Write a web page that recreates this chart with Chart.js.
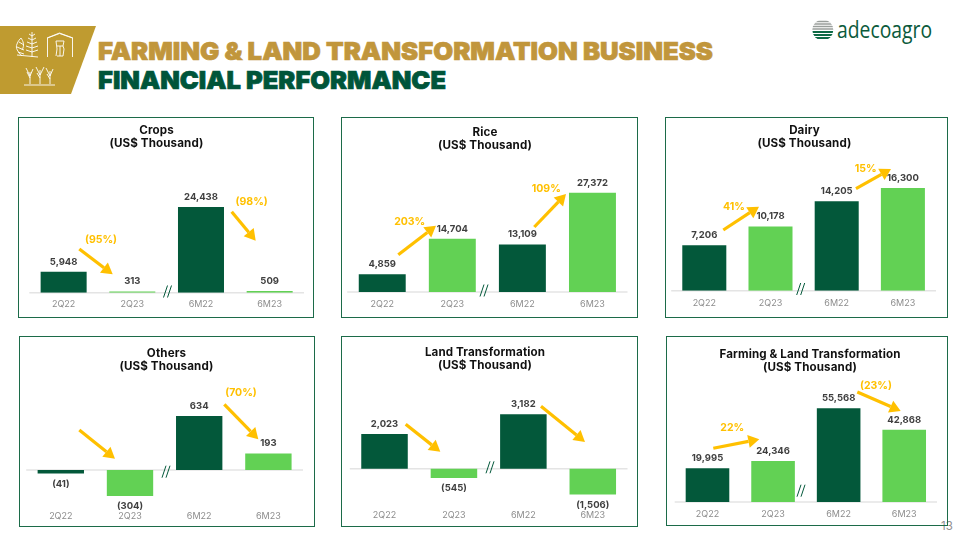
<!DOCTYPE html>
<html><head><meta charset="utf-8">
<script src="https://cdn.jsdelivr.net/npm/chart.js@4"></script>
<style>
html,body{margin:0;padding:0;background:#fff;width:960px;height:540px;overflow:hidden;font-family:Inter,sans-serif}
.box{position:absolute;box-sizing:border-box;border:1.4px solid #1c6b49}
canvas{position:absolute;left:0;top:0}
.ttl{position:absolute;transform:translateX(-50%);white-space:nowrap;text-align:center;font:700 11.600px/13.300px Inter,sans-serif;letter-spacing:.12px;color:#111}
svg{position:absolute;left:0;top:0}
.pg{position:absolute;left:941px;top:519px;font:400 11.500px Inter,sans-serif;color:#8f8f8f}
</style></head><body>
<svg width="960" height="100" viewBox="0 0 960 100">
  <polygon points="0,26 96,26 71,94 0,94" fill="#bf9b30"/>
  <g stroke="#fff" fill="none" stroke-width=".9">
    <path d="M32 32V57M32 36l-3-2M32 36l3-2M32 40l-4-2M32 40l4-2M32 44l-5-2M32 44l5-2M32 48l-6-2M32 48l6-2M32 52l-6-2M32 52l6-2M22 56c-4-4-7-8-5-12c1-3 3-5 4-6c2 3 4 7 1 12M19 42l5 3M17 47l7 3M18 52l6 2M17 55l21 2"/>
    <path d="M47.500 57V38l12-4.500 13 4.500V57M47 38l12.500-5 13.500 5"/>
    <path d="M56 41h8l-1 5 1 3-1 7M63 56h-6M56 41l1 8-1 7M57 46h6M60 46v10"/>
    <path d="M24 85h31M30 84V72M30 76l-4-8M30 78l-3-6M30 76l3-7M40 84V70M40 75l-4-8M40 78l-3-5M40 75l4-8M50 84V71M50 76l-4-8M50 79l-3-5M50 76l3-7"/>
  </g>
  <text x="98" y="60" textLength="615" lengthAdjust="spacingAndGlyphs" font-family="Inter" font-weight="900" font-size="25" fill="#c1963c" stroke="#c1963c" stroke-width=".7">FARMING &amp; LAND TRANSFORMATION BUSINESS</text>
  <text x="98" y="88.500" textLength="348" lengthAdjust="spacingAndGlyphs" font-family="Inter" font-weight="900" font-size="25" fill="#00553a" stroke="#00553a" stroke-width=".7">FINANCIAL PERFORMANCE</text>
  <defs><clipPath id="g"><circle cx="822.800" cy="30" r="10.500"/></clipPath></defs>
  <g clip-path="url(#g)">
    <rect x="812" y="19" width="22" height="22" fill="#fff"/>
    <path d="M812 21.500h22M812 24h22M812 26.500h22M812 29h22" stroke="#9a9f9c" stroke-width="1.500"/>
    <path d="M812 32h22M812 35h22M812 38h22" stroke="#0d6a45" stroke-width="2.200"/>
  </g>
  <text x="837" y="38" textLength="95" lengthAdjust="spacingAndGlyphs" font-family="Open Sans" font-size="23" fill="#0b5a3c">adecoagro</text>
</svg>
<div class="pg">13</div>
<script>
const categories = ['2Q22', '2Q23', '6M22', '6M23'];
const cropsValues = [5948, 313, 24438, 509];
const riceValues = [4859, 14704, 13109, 27372];
const dairyValues = [7206, 10178, 14205, 16300];
const othersValues = [-41, -304, 634, 193];
const landValues = [2023, -545, 3182, -1506];
const totalValues = [19995, 24346, 55568, 42868];
const DARK = '#03583a', LIGHT = '#62d154', GOLD = '#ffc000';

// Layout of each panel (page pixels): box, plot rectangle, tick row, annotations.
const panels = [
 {name:'Crops', values:cropsValues, box:[18,117,314,318], plot:[29.300,304,170,292.700], y:[0,35000], tickY:304, bar:.67,
  titleX:156.500, titleY:124, brk:[167.500,291.500],
  arrows:[[79.300,249,112.700,274.300],[231.700,211.700,255.700,240.700]],
  pct:[['(95%)',101,240],['(98%)',251.700,201.700]]},
 {name:'Rice', values:riceValues, box:[341,117,638,318], plot:[347.200,627.500,165,292], y:[0,35000], tickY:303.700, bar:.67,
  titleX:485, titleY:126, brk:[484,290.500],
  arrows:[[398.300,254.700,436,225.700],[534.300,227,566,194]],
  pct:[['203%',409.700,222.300],['109%',546.300,188.700]]},
 {name:'Dairy', values:dairyValues, box:[665,117,948,318], plot:[671.200,936,164.700,290.700], y:[0,20000], tickY:303, bar:.665,
  titleX:804.500, titleY:124, brk:[800.700,289],
  arrows:[[723.300,230,759,206.700],[856,188.700,891,169]],
  pct:[['41%',734,206.700],['15%',865.700,168.700]]},
 {name:'Others', values:othersValues, box:[19,336,315,527], plot:[26.200,303,384.700,504.100], y:[-400,1000], tickY:516.300, bar:.67,
  titleX:166.500, titleY:346.500, brk:[166,471.700],
  arrows:[[79.300,430,115,458.700],[224.300,404.300,258.300,439.300]],
  pct:[['(70%)',241,392.700]]},
 {name:'Land Transformation', values:landValues, box:[341,336,638,527], plot:[349.800,627.500,383.200,502.900], y:[-2000,5000], tickY:515, bar:.67,
  titleX:485, titleY:346, brk:[490,467.300],
  arrows:[[405.700,424.300,440.300,451.700],[541,406.300,585,442]],
  pct:[]},
 {name:'Farming & Land Transformation', values:totalValues, box:[666,336,948,526], plot:[674.700,937,367.100,502], y:[0,80000], tickY:513.700, bar:.665,
  titleX:810, titleY:347.500, brk:[801,490.700],
  arrows:[[713.300,448.300,759.300,439.300],[857.300,392,900.700,411]],
  pct:[['22%',732.300,428.300],['(23%)',876,385.700]]}
];

function fmt(v){
  const s = Math.abs(v).toLocaleString('en-US');
  return v < 0 ? '(' + s + ')' : s;
}

const decorate = {
  id:'decorate',
  beforeDatasetsDraw(chart){
    const c = chart.ctx, a = chart.chartArea, zero = chart.scales.y.getPixelForValue(0);
    c.save();
    c.strokeStyle = '#e4e4e4'; c.lineWidth = 1.500;
    c.beginPath(); c.moveTo(a.left, zero); c.lineTo(a.right, zero); c.stroke();
    c.restore();
  },
  afterDatasetsDraw(chart, args, o){
    const p = o.panel, c = chart.ctx, ox = p.box[0], oy = p.box[1];
    c.save();
    // value labels
    c.font = '700 9.500px Inter, sans-serif'; c.fillStyle = '#3f3f3f';
    c.textAlign = 'center'; c.textBaseline = 'middle';
    chart.getDatasetMeta(0).data.forEach((b, i) => {
      const v = p.values[i];
      c.fillText(fmt(v), b.x, b.y + (v < 0 ? 10.500 : -10));
    });
    // axis break
    c.strokeStyle = DARK; c.lineWidth = 1;
    const bx = p.brk[0] - ox, by = p.brk[1] - oy;
    [-2, 2].forEach(d => {
      c.beginPath(); c.moveTo(bx + d - 2, by + 6); c.lineTo(bx + d + 2, by - 6); c.stroke();
    });
    // arrows
    c.strokeStyle = GOLD; c.fillStyle = GOLD; c.lineWidth = 3.200;
    p.arrows.forEach(r => {
      const x1 = r[0] - ox, y1 = r[1] - oy, x2 = r[2] - ox, y2 = r[3] - oy;
      const t = Math.atan2(y2 - y1, x2 - x1), h = 11, w = 6.500;
      const bxx = x2 - h * Math.cos(t), byy = y2 - h * Math.sin(t);
      c.beginPath(); c.moveTo(x1, y1); c.lineTo(bxx, byy); c.stroke();
      c.beginPath(); c.moveTo(x2, y2);
      c.lineTo(bxx - w * Math.sin(t), byy + w * Math.cos(t));
      c.lineTo(bxx + w * Math.sin(t), byy - w * Math.cos(t));
      c.closePath(); c.fill();
    });
    // percentages
    c.font = '700 10.500px Inter, sans-serif'; c.fillStyle = GOLD;
    p.pct.forEach(t => c.fillText(t[0], t[1] - ox, t[2] - oy));
    c.restore();
  }
};

panels.forEach(p => {
  const [bl, bt, br, bb] = p.box, [pl, pr, pt, pb] = p.plot;
  const W = br - bl, H = bb - bt;
  const box = document.createElement('div');
  box.className = 'box';
  box.style.cssText = `left:${bl}px;top:${bt}px;width:${W}px;height:${H}px`;
  const cv = document.createElement('canvas');
  cv.width = W; cv.height = H;
  cv.style.cssText = 'left:-1.400px;top:-1.400px;';
  box.appendChild(cv);
  document.body.appendChild(box);
  const ttl = document.createElement('div');
  ttl.className = 'ttl';
  ttl.style.cssText = `left:${p.titleX}px;top:${p.titleY}px`;
  ttl.innerHTML = p.name.replace('&', '&amp;') + '<br>(US$ Thousand)';
  document.body.appendChild(ttl);
  new Chart(cv, {
    type:'bar',
    data:{labels:categories, datasets:[{
      data:p.values,
      backgroundColor:[DARK, LIGHT, DARK, LIGHT],
      categoryPercentage:1, barPercentage:p.bar, borderWidth:0
    }]},
    options:{
      responsive:false, animation:false,
      layout:{padding:{left:pl - bl, right:br - pr, top:pt - bt, bottom:0}},
      plugins:{legend:{display:false}, tooltip:{enabled:false}, decorate:{panel:p}},
      scales:{
        y:{display:false, min:p.y[0], max:p.y[1]},
        x:{
          grid:{display:false, drawTicks:false}, border:{display:false},
          ticks:{color:'#8c8c8c', font:{family:'Inter', size:9, weight:'400'},
                 padding:p.tickY - pb - 5, maxRotation:0, autoSkip:false},
          afterFit(s){ s.height = bb - pb; }
        }
      }
    },
    plugins:[decorate]
  });
});
</script>
</body></html>
